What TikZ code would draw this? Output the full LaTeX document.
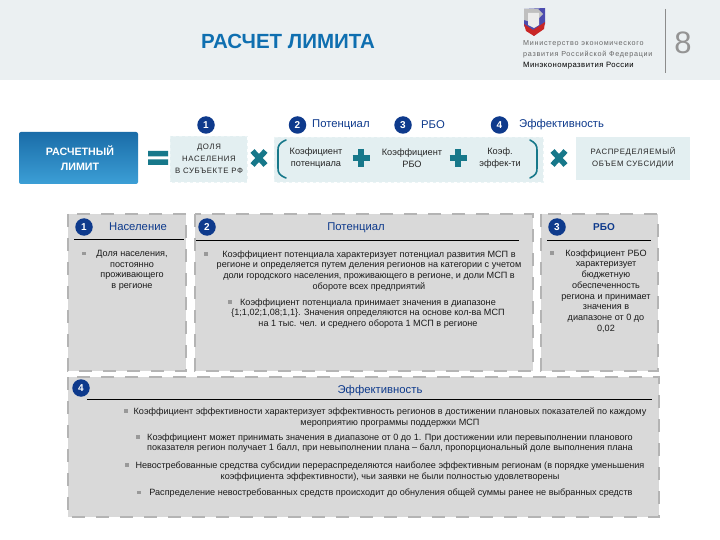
\documentclass[tikz,border=0pt]{standalone}
\usepackage{fontspec}
\setmainfont{Liberation Sans}
\usetikzlibrary{calc}
\definecolor{band}{HTML}{EBF0F2}
\definecolor{titleblue}{HTML}{0F6FB0}
\definecolor{navy}{HTML}{0E3A8C}
\definecolor{teal}{HTML}{17788A}
\definecolor{pale}{HTML}{E3EFF1}
\definecolor{panelfill}{HTML}{D9D9D9}
\definecolor{paneldash}{HTML}{B4B4B4}
\definecolor{bodytext}{HTML}{1A1A1A}
\definecolor{boxtop}{HTML}{1A6CA8}
\definecolor{boxbot}{HTML}{3C9FD6}
\newcommand{\spaced}[1]{\addfontfeature{LetterSpace=8}#1}
\tikzset{
  x=1pt,y=-1pt,
  panel/.style={draw=paneldash,fill=panelfill,line width=2.4pt,dash pattern=on 13pt off 11pt},
  rule/.style={draw=black,line width=0.8pt},
  badge/.style={circle,fill=navy,text=white,inner sep=0pt,minimum size=17.5pt,font=\bfseries\fontsize{10}{10}\selectfont},
  headtext/.style={text=navy,font=\fontsize{11.3}{13}\selectfont,inner sep=0pt},
  body/.style={text=bodytext,align=center,inner sep=0pt,font=\fontsize{9.1}{10.7}\selectfont},
  dot/.style={fill=paneldash!85!black,inner sep=0pt,minimum size=3.4pt},
  small/.style={text=black!85,align=center,inner sep=0pt,font=\fontsize{7.8}{12}\selectfont},
  plainsmall/.style={text=black!85,align=center,inner sep=0pt,font=\fontsize{9.2}{12}\selectfont},
  palebox/.style={fill=pale,draw=pale!70!white,dashed,line width=0.5pt},
  sym/.style={draw=teal,line width=5.5pt},
  bracket/.style={draw=teal,line width=1.6pt,line cap=round},
}
\newcommand{\timesmark}[2]{\draw[sym] (#1-6.5,#2-7)--(#1+6.5,#2+7) (#1-6.5,#2+7)--(#1+6.5,#2-7);}
\newcommand{\plusmark}[2]{\draw[sym] (#1-8.5,#2)--(#1+8.5,#2) (#1,#2-9)--(#1,#2+9);}
\begin{document}
\begin{tikzpicture}
\useasboundingbox (0,0) rectangle (720,540);
\fill[white] (0,0) rectangle (720,540);
% header
\fill[band] (0,0) rectangle (720,80);
\node[text=titleblue,inner sep=0pt,font=\bfseries\fontsize{20.5}{22}\selectfont] (title) at (288,41) {РАСЧЕТ ЛИМИТА};
% logo
\fill[blue!55!black!70] (524,9)--(545,8)--(545,24)--(534,36)--(524,26)--cycle;
\fill[black!25] (524,9)--(538,9)--(543,14)--(534,23)--(524,20)--cycle;
\fill[white!85!gray] (528,13)--(539,13)--(539,25)--(534,28)--(528,25)--cycle;
\fill[red!75!black!85] (524,24)--(533,30)--(545,22)--(544,29)--(534,36)--(526,31)--cycle;
\node[anchor=west,inner sep=0pt,text=black!60,font=\fontsize{7.2}{8}\selectfont] (m1) at (523,44) {\addfontfeature{LetterSpace=10}Министерство экономического};
\node[anchor=west,inner sep=0pt,text=black!60,font=\fontsize{7.2}{8}\selectfont] (m2) at (523,55) {\addfontfeature{LetterSpace=10}развития Российской Федерации};
\node[anchor=west,inner sep=0pt,text=black,font=\fontsize{7.7}{8}\selectfont] (m3) at (523,66) {\addfontfeature{LetterSpace=6}Минэкономразвития России};
\draw[black!45,line width=0.7pt] (665,9)--(665,73);
\node[text=black!42,inner sep=0pt,font=\fontsize{31}{31}\selectfont] (page) at (683,43) {8};
% formula row
\shade[top color=boxtop,bottom color=boxbot,rounded corners=2pt] (19,132) rectangle (138,184);
\node[text=white,align=center,inner sep=0pt,font=\bfseries\fontsize{10.7}{15.5}\selectfont] (limit) at (80,158) {РАСЧЕТНЫЙ\\ЛИМИТ};
\fill[teal] (148,151) rectangle (168,156.5) (148,159.5) rectangle (168,165);
\draw[palebox] (170,136) rectangle (247,182);
\node[small] (share) at (209,159) {\spaced{ДОЛЯ}\\\spaced{НАСЕЛЕНИЯ}\\\spaced{В СУБЪЕКТЕ РФ}};
\timesmark{259}{158}
\draw[palebox] (274,137) rectangle (543,182);
\draw[bracket] (286,140) .. controls (279,143) and (278,146) .. (278,150) -- (278,168) .. controls (278,173) and (279,175) .. (286,178);
\draw[bracket] (530,140) .. controls (536,143) and (537,146) .. (537,150) -- (537,168) .. controls (537,173) and (536,175) .. (530,178);
\node[plainsmall] (kp) at (316,158) {Коэфициент\\потенциала};
\plusmark{361}{158}
\node[plainsmall] (kr) at (412,158) {Коэффициент\\РБО};
\plusmark{458}{158}
\node[plainsmall] (ke) at (500,158) {Коэф.\\эффек-ти};
\timesmark{559}{158}
\fill[pale] (576,137) rectangle (690,180);
\node[small] (vol) at (633,158) {\spaced{РАСПРЕДЕЛЯЕМЫЙ}\\\spaced{ОБЪЕМ СУБСИДИИ}};
% legend row
\node[badge] (b1) at (206,125) {1};
\node[badge] (b2) at (297.5,125) {2};
\node[headtext,anchor=west] (l2) at (312,125) {Потенциал};
\node[badge] (b3) at (403,125) {3};
\node[headtext,anchor=west] (l3) at (421,125) {РБО};
\node[badge] (b4) at (499.5,125) {4};
\node[headtext,anchor=west] (l4) at (519,125) {Эффективность};
% panels
\draw[panel] (68,214) rectangle (186,371);
\draw[panel] (195,214) rectangle (533,371);
\draw[panel] (541,214) rectangle (658,371);
\draw[panel] (68,377) rectangle (659,517);
% panel 1
\node[badge] (p1) at (84,227) {1};
\node[headtext] (t1) at (138,227) {Население};
\draw[rule] (74,239)--(184,239);
\node[dot] (d1) at (84,253.5) {};
\node[body,anchor=north] (x1) at (132,250) {Доля населения,\\постоянно\\проживающего\\в регионе};
% panel 2
\node[badge] (p2) at (207,227) {2};
\node[headtext] (t2) at (356,228) {Потенциал};
\draw[rule] (196,240)--(519,240);
\node[dot] (d2) at (206,254) {};
\node[body,anchor=north] (x2) at (369,250.5) {Коэффициент потенциала характеризует потенциал развития МСП в\\регионе и определяется путем деления регионов на категории с учетом\\доли городского населения, проживающего в регионе, и доли МСП в\\обороте всех предприятий};
\node[dot] (d3) at (230,302) {};
\node[body,anchor=north] (x3) at (368,298.5) {Коэффициент потенциала принимает значения в диапазоне\\\{1;1,02;1,08;1,1\}. Значения определяются на основе кол-ва МСП\\на 1 тыс. чел. и среднего оборота 1 МСП в регионе};
% panel 3
\node[badge] (p3) at (557,227) {3};
\node[headtext,font=\bfseries\fontsize{10}{13}\selectfont] (t3) at (604,227) {РБО};
\draw[rule] (547,240)--(651,240);
\node[dot] (d4) at (552,253) {};
\node[body,anchor=north] (x4) at (606,249.5) {Коэффициент РБО\\характеризует\\бюджетную\\обеспеченность\\региона и принимает\\значения в\\диапазоне от 0 до\\0,02};
% panel 4
\node[badge] (p4) at (81,388) {4};
\node[headtext] (t4) at (380,391) {Эффективность};
\draw[rule] (87,399)--(652,399);
\node[dot] (d5) at (126,411) {};
\node[body,anchor=north] (x5) at (390,407.5) {Коэффициент эффективности характеризует эффективность регионов в достижении плановых показателей по каждому\\мероприятию программы поддержки МСП};
\node[dot] (d6) at (138,437) {};
\node[body,anchor=north] (x6) at (390,433.5) {Коэффициент может принимать значения в диапазоне от 0 до 1. При достижении или перевыполнении планового\\показателя регион получает 1 балл, при невыполнении плана – балл, пропорциональный доле выполнения плана};
\node[dot] (d7) at (127,465) {};
\node[body,anchor=north] (x7) at (390,461.5) {Невостребованные средства субсидии перераспределяются наиболее эффективным регионам (в порядке уменьшения\\коэффициента эффективности), чьи заявки не были полностью удовлетворены};
\node[dot] (d8) at (139,492.5) {};
\node[body,anchor=north] (x8) at (391,489) {Распределение невостребованных средств происходит до обнуления общей суммы ранее не выбранных средств};
\end{tikzpicture}
\end{document}
